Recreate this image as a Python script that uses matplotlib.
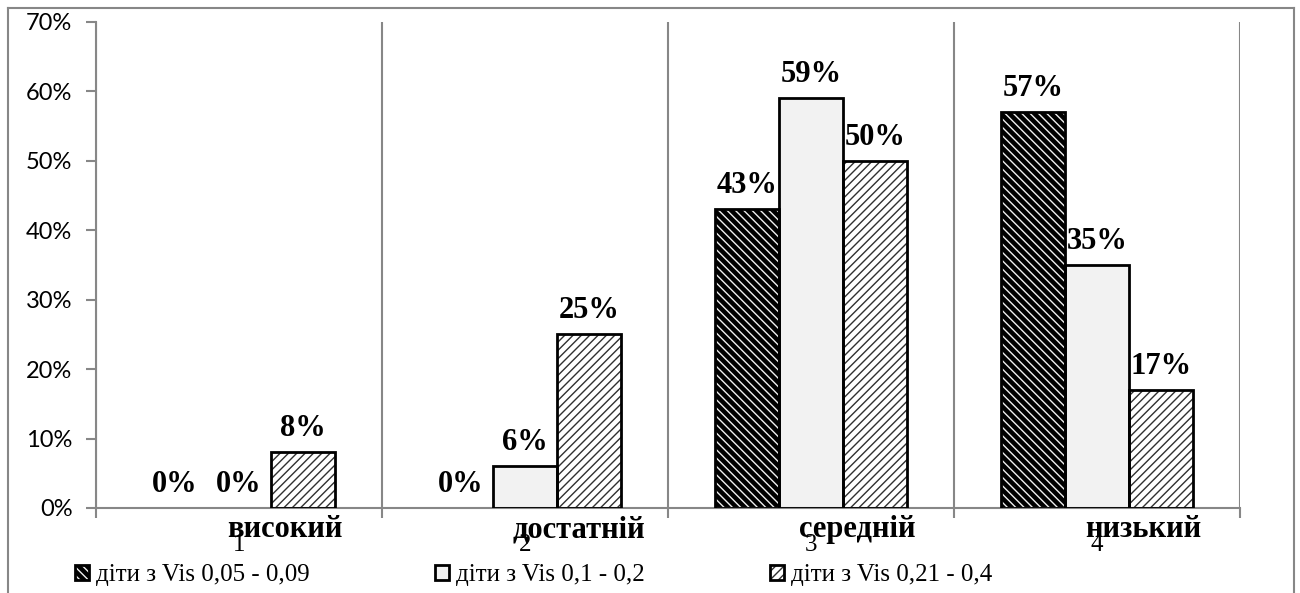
import numpy as np
import matplotlib
matplotlib.use("Agg")
import matplotlib.pyplot as plt
from matplotlib.lines import Line2D
from matplotlib.legend_handler import HandlerTuple
import matplotlib.transforms as mtransforms

categories = ["високий", "достатній", "середній", "низький"]
numbers = ["1", "2", "3", "4"]
series_names = ["діти з Vis 0,05 - 0,09", "діти з Vis 0,1 - 0,2", "діти з Vis 0,21 - 0,4"]
vis_005_009 = [0, 0, 43, 57]
vis_01_02 = [0, 6, 59, 35]
vis_021_04 = [8, 25, 50, 17]
yticks = [0, 10, 20, 30, 40, 50, 60, 70]

plt.rcParams['hatch.linewidth'] = 1.0
serif = "Liberation Serif"
grey = "#878787"

fig = plt.figure(figsize=(13, 5.93), dpi=100)
ax = fig.add_axes([96/1300, 85/593, 1144/1300, 486/593])

x = np.arange(1, len(categories) + 1)
width = 0.224
offsets = [-width, 0, width]
styles = [("black", "#f0f0f0", "\\\\\\\\"),
          ("#f2f2f2", "#f2f2f2", ""),
          ("white", "#303030", "////")]
all_vals = [vis_005_009, vis_01_02, vis_021_04]

handles = []
for vals, off, (face, hcol, hatch) in zip(all_vals, offsets, styles):
    pos = x + off
    hb = ax.bar(pos, vals, width, color=face, edgecolor=hcol, hatch=hatch,
                linewidth=0, zorder=2)
    lw = [0 if v == 0 else 2 for v in vals]
    eb = ax.bar(pos, vals, width, fill=False, edgecolor="black",
                linewidth=lw, zorder=3)
    handles.append((hb.patches[-1], eb.patches[-1]))
    for p, v in zip(pos, vals):
        ax.annotate(f"{v}%", (p, v), xytext=(0, 11.5), textcoords="offset points",
                    ha="center", va="baseline", fontsize=22, fontweight="bold",
                    family=serif, zorder=4)

ax.set_xlim(0.5, len(categories) + 0.5)
ax.set_ylim(0, 70)
ax.set_yticks(yticks)
ax.set_yticklabels([f"{t}%" for t in yticks], family="Lato", fontsize=17)
ax.tick_params(axis="y", direction="out", length=7, width=1.5, color=grey, pad=10)

ax.set_xticks([])
ax.set_xticks(np.arange(0.5, len(categories) + 1), minor=True)
ax.tick_params(axis="x", which="minor", direction="out", length=7, width=1.5,
               color=grey, labelbottom=False)
ax.grid(axis="x", which="minor", color=grey, linewidth=1.5, zorder=1)

for s in ["top", "right"]:
    ax.spines[s].set_visible(False)
for s in ["left", "bottom"]:
    ax.spines[s].set_color(grey)
    ax.spines[s].set_linewidth(1.5)

trans = mtransforms.blended_transform_factory(ax.transData, ax.transAxes)
for xi, name, num in zip(x, categories, numbers):
    ax.text(xi, -0.088, num, transform=trans, ha="center", va="baseline",
            fontsize=18, family=serif)
    ax.text(xi - 0.042, -0.06, name, transform=trans, ha="left", va="baseline",
            fontsize=22, fontweight="bold", family=serif)

fig.legend(handles, series_names, handler_map={tuple: HandlerTuple(ndivide=1, pad=0)},
           loc="center left", bbox_to_anchor=(75/1300, 1 - 575/593),
           ncol=3, frameon=False, prop={"family": serif, "size": 18},
           handlelength=0.55, handleheight=0.55, handletextpad=0.3,
           columnspacing=5.0, borderpad=0, borderaxespad=0)

# outer frame
fig.add_artist(Line2D([8/1300, 8/1300], [-0.02, 1 - 8/593], transform=fig.transFigure,
                      color=grey, linewidth=1.5))
fig.add_artist(Line2D([8/1300, 1294/1300], [1 - 8/593, 1 - 8/593], transform=fig.transFigure,
                      color=grey, linewidth=1.5))
fig.add_artist(Line2D([1294/1300, 1294/1300], [-0.02, 1 - 8/593], transform=fig.transFigure,
                      color=grey, linewidth=1.5))

fig.savefig("out.png", dpi=100)
